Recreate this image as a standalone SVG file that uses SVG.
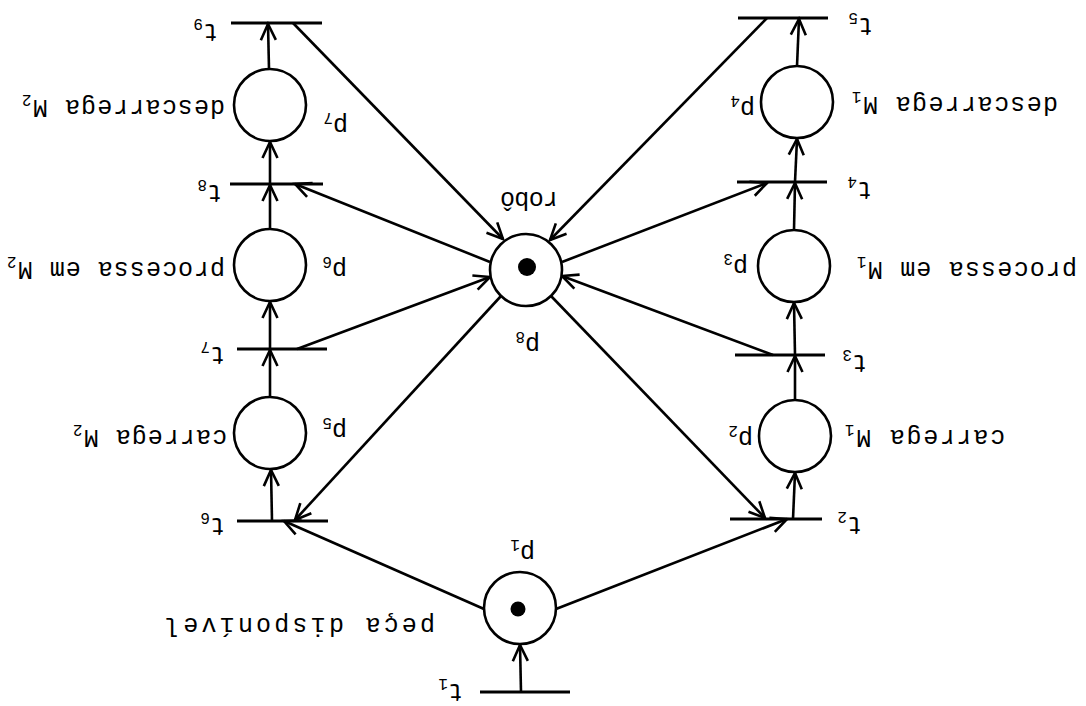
<svg xmlns="http://www.w3.org/2000/svg" width="1086" height="706" viewBox="0 0 1086 706">
<style>
.pl{fill:#fff;stroke:#000;stroke-width:2.6}
.tr{stroke:#000;stroke-width:3;fill:none}
.tk{fill:#000}
.ar{stroke:#000;stroke-width:2.6;fill:none;marker-end:url(#ah)}
text{font-family:"Liberation Mono","DejaVu Sans Mono",monospace;font-size:25px;fill:#000}
.sub{font-size:16px}
</style>
<defs>
<marker id="ah" markerUnits="userSpaceOnUse" markerWidth="22" markerHeight="22" viewBox="0 0 22 22" refX="19" refY="11" orient="auto">
<path d="M3,3.5 L19,11 L3,18.5" fill="none" stroke="#000" stroke-width="2.6"/>
</marker>
</defs>
<rect width="1086" height="706" fill="#fff"/>
<g id="connectors">
<line class="ar" x1="272" y1="521" x2="271" y2="470"/>
<line class="ar" x1="270" y1="397" x2="270" y2="350"/>
<line class="ar" x1="270" y1="349" x2="270" y2="302"/>
<line class="ar" x1="270" y1="229" x2="270" y2="185"/>
<line class="ar" x1="270" y1="184" x2="270" y2="142"/>
<line class="ar" x1="269" y1="69" x2="268" y2="24"/>
<line class="ar" x1="793" y1="519" x2="795" y2="473"/>
<line class="ar" x1="795" y1="400" x2="795" y2="356"/>
<line class="ar" x1="795" y1="355" x2="794" y2="303"/>
<line class="ar" x1="794" y1="230" x2="795" y2="183"/>
<line class="ar" x1="795" y1="182" x2="797" y2="139"/>
<line class="ar" x1="797" y1="66" x2="799" y2="19"/>
<line class="ar" x1="521" y1="692" x2="520" y2="645"/>
<line class="ar" x1="484" y1="609" x2="284" y2="521"/>
<line class="ar" x1="556" y1="609" x2="787" y2="519"/>
<line class="ar" x1="501" y1="296" x2="295" y2="520"/>
<line class="ar" x1="551" y1="296" x2="765" y2="518"/>
<line class="ar" x1="293" y1="23" x2="503" y2="239"/>
<line class="ar" x1="767" y1="18" x2="550" y2="240"/>
<line class="ar" x1="297" y1="349" x2="490" y2="277"/>
<line class="ar" x1="773" y1="355" x2="562" y2="276"/>
<line class="ar" x1="490" y1="262" x2="295" y2="184"/>
<line class="ar" x1="562" y1="262" x2="767" y2="183"/>
</g>
<g id="p1"><circle class="pl" cx="520" cy="608" r="36"/><circle class="tk" cx="518" cy="609" r="7.5"/>
<text x="535" y="545" transform="rotate(180 535 545)">p<tspan class="sub" baseline-shift="-5">1</tspan></text>
<text x="435" y="618" textLength="270" transform="rotate(180 435 618)">peça disponível</text></g>
<g id="p2"><circle class="pl" cx="795" cy="436" r="36"/>
<text x="753" y="431" transform="rotate(180 753 431)">p<tspan class="sub" baseline-shift="-5">2</tspan></text>
<text x="1005" y="430" textLength="160" transform="rotate(180 1005 430)">carrega M<tspan class="sub" baseline-shift="-5">1</tspan></text></g>
<g id="p3"><circle class="pl" cx="794" cy="266" r="36"/>
<text x="748" y="259" transform="rotate(180 748 259)">p<tspan class="sub" baseline-shift="-5">3</tspan></text>
<text x="1077" y="262" textLength="220" transform="rotate(180 1077 262)">processa em M<tspan class="sub" baseline-shift="-5">1</tspan></text></g>
<g id="p4"><circle class="pl" cx="797" cy="102" r="36"/>
<text x="755" y="101" transform="rotate(180 755 101)">p<tspan class="sub" baseline-shift="-5">4</tspan></text>
<text x="1058" y="97" textLength="206" transform="rotate(180 1058 97)">descarrega M<tspan class="sub" baseline-shift="-5">1</tspan></text></g>
<g id="p5"><circle class="pl" cx="270" cy="433" r="36"/>
<text x="347" y="423" transform="rotate(180 347 423)">p<tspan class="sub" baseline-shift="-5">5</tspan></text>
<text x="227" y="430" textLength="154" transform="rotate(180 227 430)">carrega M<tspan class="sub" baseline-shift="-5">2</tspan></text></g>
<g id="p6"><circle class="pl" cx="270" cy="265" r="36"/>
<text x="347" y="262" transform="rotate(180 347 262)">p<tspan class="sub" baseline-shift="-5">6</tspan></text>
<text x="225" y="262" textLength="218" transform="rotate(180 225 262)">processa em M<tspan class="sub" baseline-shift="-5">2</tspan></text></g>
<g id="p7"><circle class="pl" cx="270" cy="105" r="36"/>
<text x="348" y="118" transform="rotate(180 348 118)">p<tspan class="sub" baseline-shift="-5">7</tspan></text>
<text x="225" y="100" textLength="203" transform="rotate(180 225 100)">descarrega M<tspan class="sub" baseline-shift="-5">2</tspan></text></g>
<g id="p8"><circle class="pl" cx="526" cy="270" r="36"/><circle class="tk" cx="527" cy="267" r="9"/>
<text x="540" y="337" transform="rotate(180 540 337)">p<tspan class="sub" baseline-shift="-5">8</tspan></text>
<text x="558" y="192" textLength="58" transform="rotate(180 558 192)">robô</text></g>
<g id="t1"><line class="tr" x1="480" y1="692" x2="570" y2="692"/>
<text x="463" y="684" transform="rotate(180 463 684)">t<tspan class="sub" baseline-shift="-5">1</tspan></text></g>
<g id="t2"><line class="tr" x1="730" y1="519" x2="822" y2="519"/>
<text x="862" y="517" transform="rotate(180 862 517)">t<tspan class="sub" baseline-shift="-5">2</tspan></text></g>
<g id="t3"><line class="tr" x1="735" y1="355" x2="825" y2="355"/>
<text x="867" y="355" transform="rotate(180 867 355)">t<tspan class="sub" baseline-shift="-5">3</tspan></text></g>
<g id="t4"><line class="tr" x1="737" y1="182" x2="827" y2="182"/>
<text x="872" y="182" transform="rotate(180 872 182)">t<tspan class="sub" baseline-shift="-5">4</tspan></text></g>
<g id="t5"><line class="tr" x1="738" y1="18" x2="828" y2="18"/>
<text x="873" y="18" transform="rotate(180 873 18)">t<tspan class="sub" baseline-shift="-5">5</tspan></text></g>
<g id="t6"><line class="tr" x1="237" y1="521" x2="328" y2="521"/>
<text x="225" y="518" transform="rotate(180 225 518)">t<tspan class="sub" baseline-shift="-5">6</tspan></text></g>
<g id="t7"><line class="tr" x1="237" y1="349" x2="327" y2="349"/>
<text x="225" y="347" transform="rotate(180 225 347)">t<tspan class="sub" baseline-shift="-5">7</tspan></text></g>
<g id="t8"><line class="tr" x1="230" y1="184" x2="323" y2="184"/>
<text x="222" y="185" transform="rotate(180 222 185)">t<tspan class="sub" baseline-shift="-5">8</tspan></text></g>
<g id="t9"><line class="tr" x1="231" y1="23" x2="322" y2="23"/>
<text x="218" y="24" transform="rotate(180 218 24)">t<tspan class="sub" baseline-shift="-5">9</tspan></text></g>
</svg>
